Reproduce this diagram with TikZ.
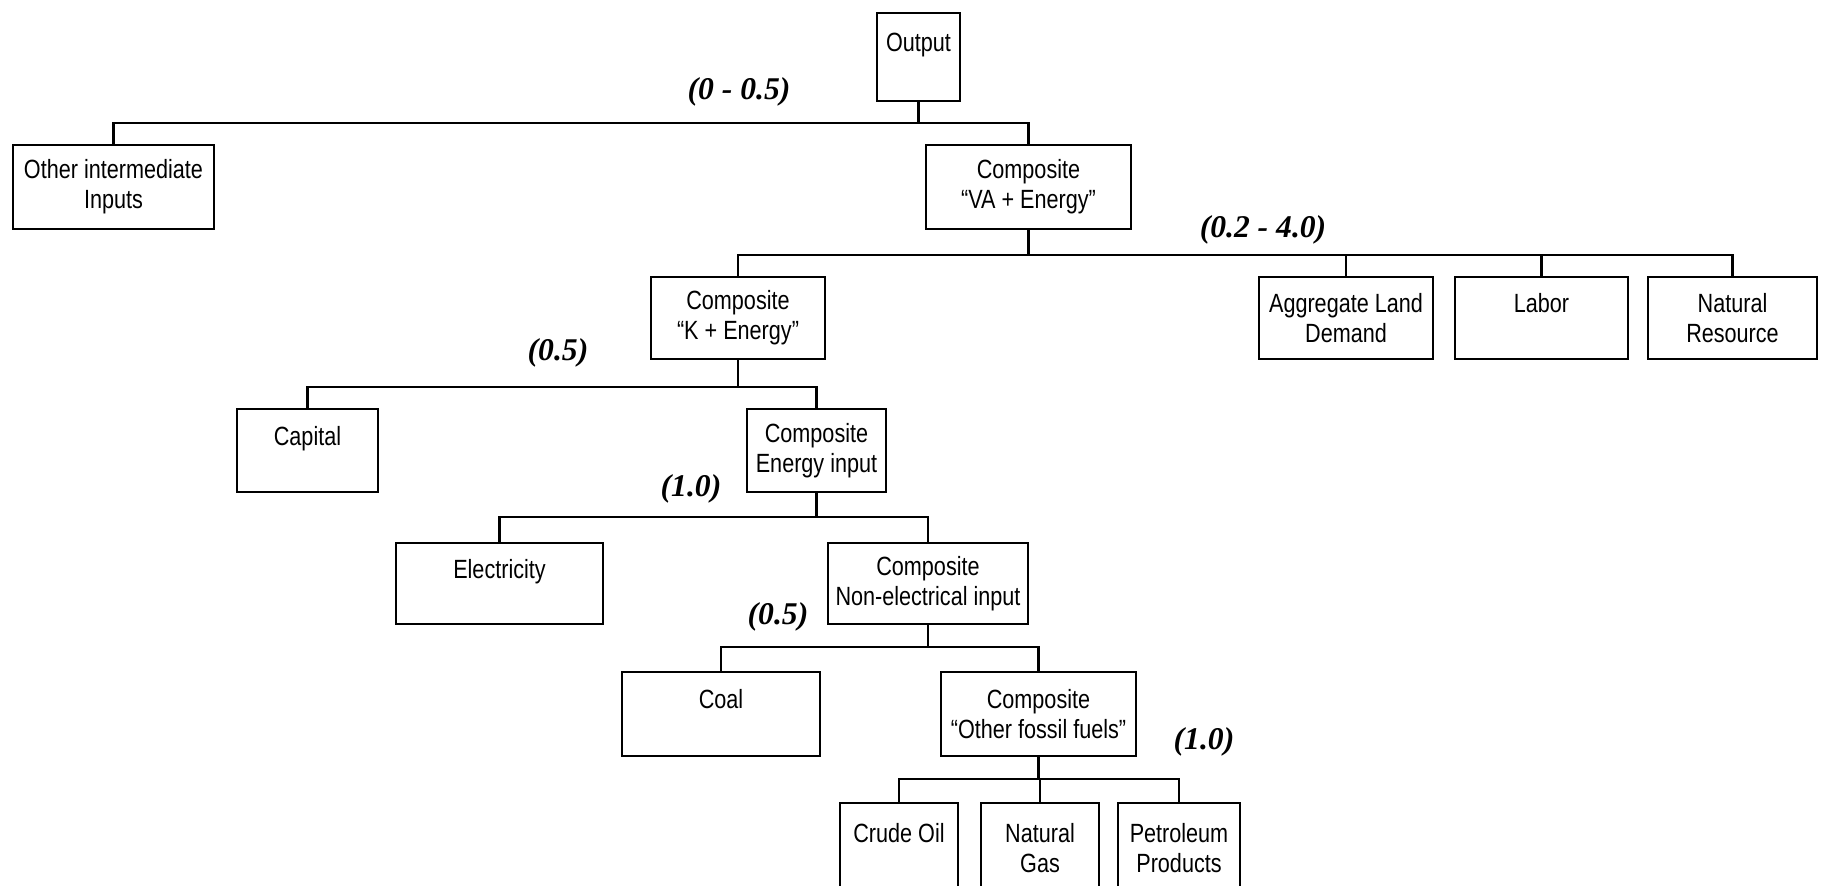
\documentclass[tikz,border=0pt]{standalone}
\usepackage{fontspec}
\setmainfont{Liberation Sans}[FakeStretch=0.82]
\newfontfamily\elasfont{Liberation Serif}
\usetikzlibrary{calc}
\tikzset{%
	box/.style  = {draw, rectangle, line width=0.6pt, minimum height=8.4mm, inner sep=0pt, align=center, font=\fontsize{7.5}{8.5}\selectfont},
	conn/.style = {line width=0.6pt},
	elas/.style = {inner sep=0pt, font=\elasfont\bfseries\itshape\fontsize{9}{10}\selectfont},
}

\begin{document}
\begin{tikzpicture}[x=0.1mm,y=-0.1mm]
		\useasboundingbox (0,0) rectangle (1822,886);
		
		% boxes
		\node[box, minimum width=8.3mm, minimum height=8.8mm] (output) at (918.5,57) {Output\\\mbox{}};
		\node[box, minimum width=20.1mm] (other) at (113.5,187) {Other intermediate\\Inputs};
		\node[box, minimum width=20.5mm] (va) at (1028.5,187) {Composite\\“VA + Energy”};
		\node[box, minimum width=17.4mm, minimum height=8.2mm] (ke) at (738,318) {Composite\\“K + Energy”};
		\node[box, minimum width=17.4mm, minimum height=8.2mm] (land) at (1346,318) {Aggregate Land\\Demand};
		\node[box, minimum width=17.3mm, minimum height=8.2mm] (labor) at (1541.5,318) {Labor\\\mbox{}};
		\node[box, minimum width=16.9mm, minimum height=8.2mm] (natres) at (1732.5,318) {Natural\\Resource};
		\node[box, minimum width=14.1mm, minimum height=8.3mm] (capital) at (307.5,450.5) {Capital\\\mbox{}};
		\node[box, minimum width=13.9mm, minimum height=8.3mm] (energy) at (816.5,450.5) {Composite\\Energy input};
		\node[box, minimum width=20.7mm, minimum height=8.1mm] (elec) at (499.5,583.5) {Electricity\\\mbox{}};
		\node[box, minimum width=20mm, minimum height=8.1mm] (nonelec) at (928,583.5) {Composite\\Non-electrical input};
		\node[box, minimum width=19.8mm] (coal) at (721,714) {Coal\\\mbox{}};
		\node[box, minimum width=19.5mm] (fossil) at (1038.5,714) {Composite\\“Other fossil fuels”};
		\node[box, minimum width=11.8mm, minimum height=9mm] (crude) at (899,848) {Crude Oil\\\mbox{}};
		\node[box, minimum width=11.8mm, minimum height=9mm] (gas) at (1040,848) {Natural\\Gas};
		\node[box, minimum width=12.2mm, minimum height=9mm] (petrol) at (1179,848) {Petroleum\\Products};
		
		% elasticities
		\node[elas] (sigA) at (739,92) {(0 - 0.5)};
		\node[elas] (sigB) at (1263,230) {(0.2 - 4.0)};
		\node[elas] (sigC) at (558,353) {(0.5)};
		\node[elas] (sigD) at (691,489) {(1.0)};
		\node[elas] (sigE) at (778,617) {(0.5)};
		\node[elas] (sigF) at (1204,742) {(1.0)};
		
		% branches
		\coordinate (busA) at (0,123);
		\coordinate (busB) at (0,255);
		\coordinate (busC) at (0,387);
		\coordinate (busD) at (0,517);
		\coordinate (busE) at (0,647);
		\coordinate (busF) at (0,779);
		
		\draw[conn] (output.south) -- (output.south |- busA) -| (other.north);
		\draw[conn] (output.south |- busA) -| (va.north);
		
		\draw[conn] (va.south) -- (va.south |- busB) -| (ke.north);
		\draw[conn] (va.south |- busB) -| (natres.north);
		\draw[conn] (land.north) -- (land.north |- busB);
		\draw[conn] (labor.north) -- (labor.north |- busB);
		
		\draw[conn] (ke.south) -- (ke.south |- busC) -| (capital.north);
		\draw[conn] (ke.south |- busC) -| (energy.north);
		
		\draw[conn] (energy.south) -- (energy.south |- busD) -| (elec.north);
		\draw[conn] (energy.south |- busD) -| (nonelec.north);
		
		\draw[conn] (nonelec.south) -- (nonelec.south |- busE) -| (coal.north);
		\draw[conn] (nonelec.south |- busE) -| (fossil.north);
		
		\draw[conn] (fossil.south) -- (fossil.south |- busF) -| (crude.north);
		\draw[conn] (fossil.south |- busF) -| (petrol.north);
		\draw[conn] (gas.north) -- (gas.north |- busF);
\end{tikzpicture}
\end{document}
